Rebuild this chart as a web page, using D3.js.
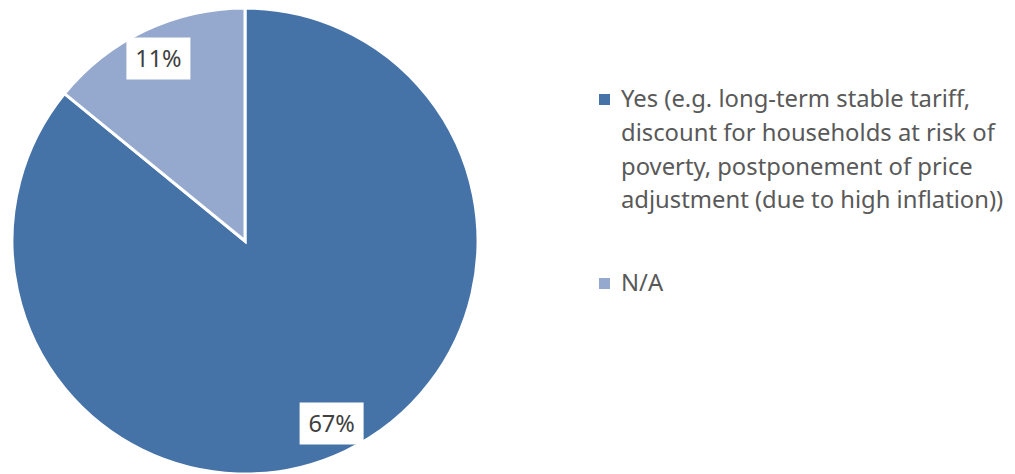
<!DOCTYPE html>
<html><head><meta charset="utf-8">
<script src="https://cdn.jsdelivr.net/npm/d3@7"></script>
<style>body{margin:0;background:#fff}svg{display:block}</style>
</head><body>
<script>
const categories = ["Yes (e.g. long-term stable tariff, discount for households at risk of poverty, postponement of price adjustment (due to high inflation))", "N/A"];
const legendLines = [["Yes (e.g. long-term stable tariff,", "discount for households at risk of", "poverty, postponement of price", "adjustment (due to high inflation))"], ["N/A"]];
const values = [67, 11];
const labels = ["67%", "11%"];
const colors = ["#4673A7", "#95A9CF"];

const W = 1015, H = 474;
const font = "Noto Sans, sans-serif";
const svg = d3.select("body").append("svg").attr("width", W).attr("height", H);
const cx = 245, cy = 241, R = 233;
const g = svg.append("g").attr("transform", `translate(${cx},${cy})`);
const pie = d3.pie().sort(null).value(d => d)(values);
const arc = d3.arc().innerRadius(0).outerRadius(R);
g.selectAll("path").data(pie).join("path")
  .attr("d", arc).attr("fill", (d, i) => colors[i])
  .attr("stroke", "#fff").attr("stroke-width", 3).attr("stroke-linejoin", "miter");
const labelArc = d3.arc().innerRadius(202).outerRadius(202);
pie.forEach((d, i) => {
  const [x, y] = labelArc.centroid(d);
  const lg = g.append("g").attr("transform", `translate(${x},${y})`);
  lg.append("rect").attr("x", -32).attr("y", -21).attr("width", 64).attr("height", 42).attr("fill", "#fff");
  lg.append("text").attr("text-anchor", "middle").attr("dy", "0.35em")
    .attr("font-family", font).attr("font-size", 23.5).attr("fill", "#404040").text(labels[i]);
});
const leg = svg.append("g");
const legY = [99, 283];
legendLines.forEach((lines, i) => {
  leg.append("rect").attr("x", 599).attr("y", legY[i] - 5).attr("width", 11).attr("height", 11).attr("fill", colors[i]);
  const t = leg.append("text").attr("font-family", font).attr("font-size", 23.8).attr("fill", "#595959");
  lines.forEach((l, j) => t.append("tspan").attr("x", 621).attr("y", legY[i] + j * 33.7).attr("dy", "0.35em").text(l));
});
</script>
</body></html>
